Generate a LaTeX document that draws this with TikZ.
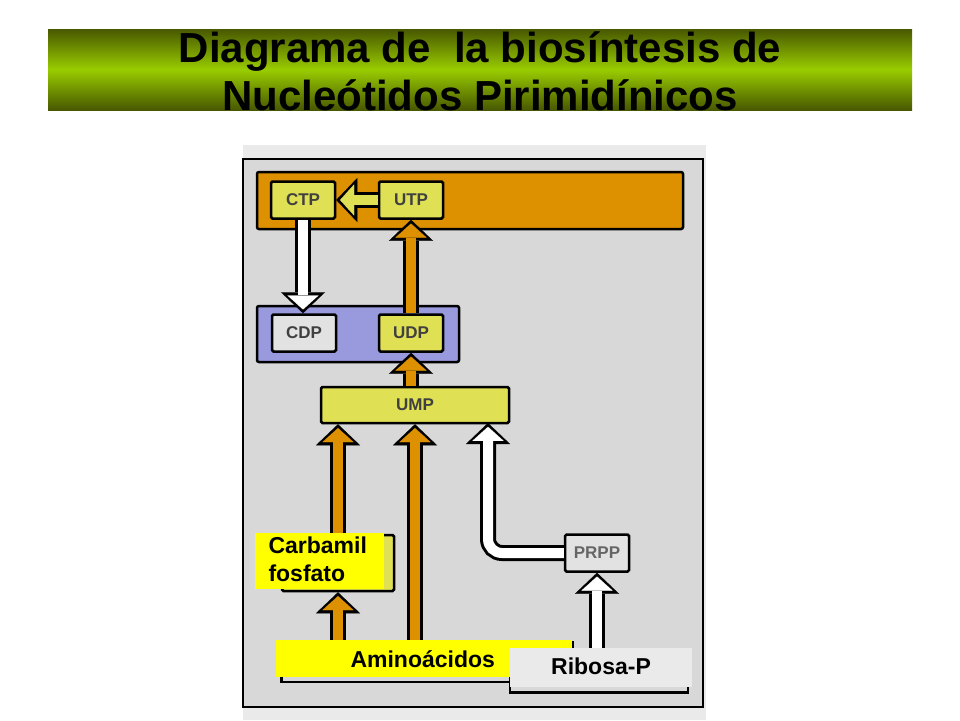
\documentclass[tikz,border=0pt]{standalone}
\usepackage{fontspec}
\setmainfont{Liberation Sans}
\usetikzlibrary{arrows.meta}

\definecolor{naranja}{RGB}{221,145,0}
\definecolor{amarillo}{RGB}{224,224,84}
\definecolor{lila}{RGB}{153,153,221}
\definecolor{grisfondo}{RGB}{216,216,216}
\definecolor{grisclaro}{RGB}{234,234,234}
\definecolor{griscaja}{RGB}{226,226,226}
\definecolor{verde}{RGB}{153,204,0}
\definecolor{oliva}{RGB}{72,88,0}
\definecolor{amarillovivo}{RGB}{255,255,0}

\tikzset{
  caja/.style={draw=black, line width=2.5pt, rounded corners=1.5pt, fill=#1,
    minimum width=64pt, minimum height=37pt, inner sep=0pt,
    font=\bfseries\fontsize{17}{17}\selectfont, text=black!75},
  flujo/.style={draw=#1, line width=10pt, shorten >=3.8pt,
    -{Triangle[width=31pt,length=14pt,line width=0.1pt]},
    preaction={draw=black, line width=16pt, shorten >=0pt,
      -{Triangle[width=44pt,length=21pt,line width=0.1pt]}}},
  etiqueta/.style={fill=#1, inner sep=0pt,
    font=\bfseries\fontsize{22}{27}\selectfont}
}

\begin{document}
\begin{tikzpicture}[x=1pt,y=-1pt]
\useasboundingbox (0,0) rectangle (960,720);

% titulo
\shade[top color=oliva, bottom color=oliva, middle color=verde] (48,29) rectangle (912,110);
\node[anchor=base, font=\bfseries\fontsize{42}{48}\selectfont] (titulo1) at (480,62) {Diagrama de\ \ la biosíntesis de};
\node[anchor=base, font=\bfseries\fontsize{42}{48}\selectfont] (titulo2) at (480,110) {Nucleótidos Pirimidínicos};

% marco
\fill[grisclaro] (243,145) rectangle (706,720);
\draw[line width=2pt, fill=grisfondo] (243,159) rectangle (703,707);
\draw[line width=2.5pt, rounded corners=2pt, fill=naranja] (257,172) rectangle (683,229);
\draw[line width=2.5pt, rounded corners=2pt, fill=lila] (257,306) rectangle (459,362);

% nucleotidos
\node[caja=amarillo] (ctp) at (303,200) {CTP};
\node[caja=amarillo] (utp) at (411,200) {UTP};
\node[caja=griscaja] (cdp) at (304,333) {CDP};
\node[caja=amarillo] (udp) at (411,333) {UDP};
\node[caja=amarillo, minimum width=188pt, minimum height=36pt] (ump) at (415,405) {UMP};
\node[caja=griscaja, text=black!60] (prpp) at (597,553) {PRPP};

% cajas de origen
\node[caja=amarillo, minimum width=112pt, minimum height=56pt] (carbamil) at (338,563) {};
\node[draw, line width=2.5pt, minimum width=291pt, minimum height=40pt] (amino) at (427,662) {};
\node[draw, line width=2.5pt, minimum width=178pt, minimum height=43pt] (ribosa) at (599,671) {};

% flechas
\coordinate (entrada) at (488,423);
\draw[flujo=amarillo] (utp) -- (ctp);
\draw[flujo=white] (ctp.south) -- (ctp.south |- cdp.north);
\draw[flujo=naranja] (udp.north) -- (utp.south);
\draw[flujo=naranja] (udp.south |- ump.north) -- (udp.south);
\draw[flujo=naranja] (carbamil.north) -- (carbamil.north |- ump.south);
\draw[flujo=naranja] (amino.north -| ump.south) -- (ump.south);
\draw[flujo=naranja] (amino.north -| carbamil.south) -- (carbamil.south);
\draw[flujo=white, rounded corners=14pt] (prpp.west) -| (entrada);
\draw[flujo=white] (ribosa.north -| prpp.south) -- (prpp.south);

% etiquetas
\node[etiqueta=amarillovivo, minimum width=129pt, minimum height=56pt] (lcarbamil) at (319.5,561) {};
\node[anchor=base west, font=\bfseries\fontsize{23}{27}\selectfont] (tcarbamil) at (265,553) {Carbamil};
\node[anchor=base west, font=\bfseries\fontsize{23}{27}\selectfont] (tfosfato) at (265,581) {fosfato};
\node[etiqueta=amarillovivo, minimum width=296pt, minimum height=37pt, anchor=north west] (lamino) at (276,640) {};
\node[anchor=base west, font=\bfseries\fontsize{23}{27}\selectfont] (tamino) at (347,667) {Aminoácidos};
\node[etiqueta=grisclaro, minimum width=182pt, minimum height=39pt, anchor=north west] (lribosa) at (510,648) {};
\node[anchor=base, font=\bfseries\fontsize{23}{27}\selectfont] (tribosa) at (601,674) {Ribosa-P};
\end{tikzpicture}
\end{document}
